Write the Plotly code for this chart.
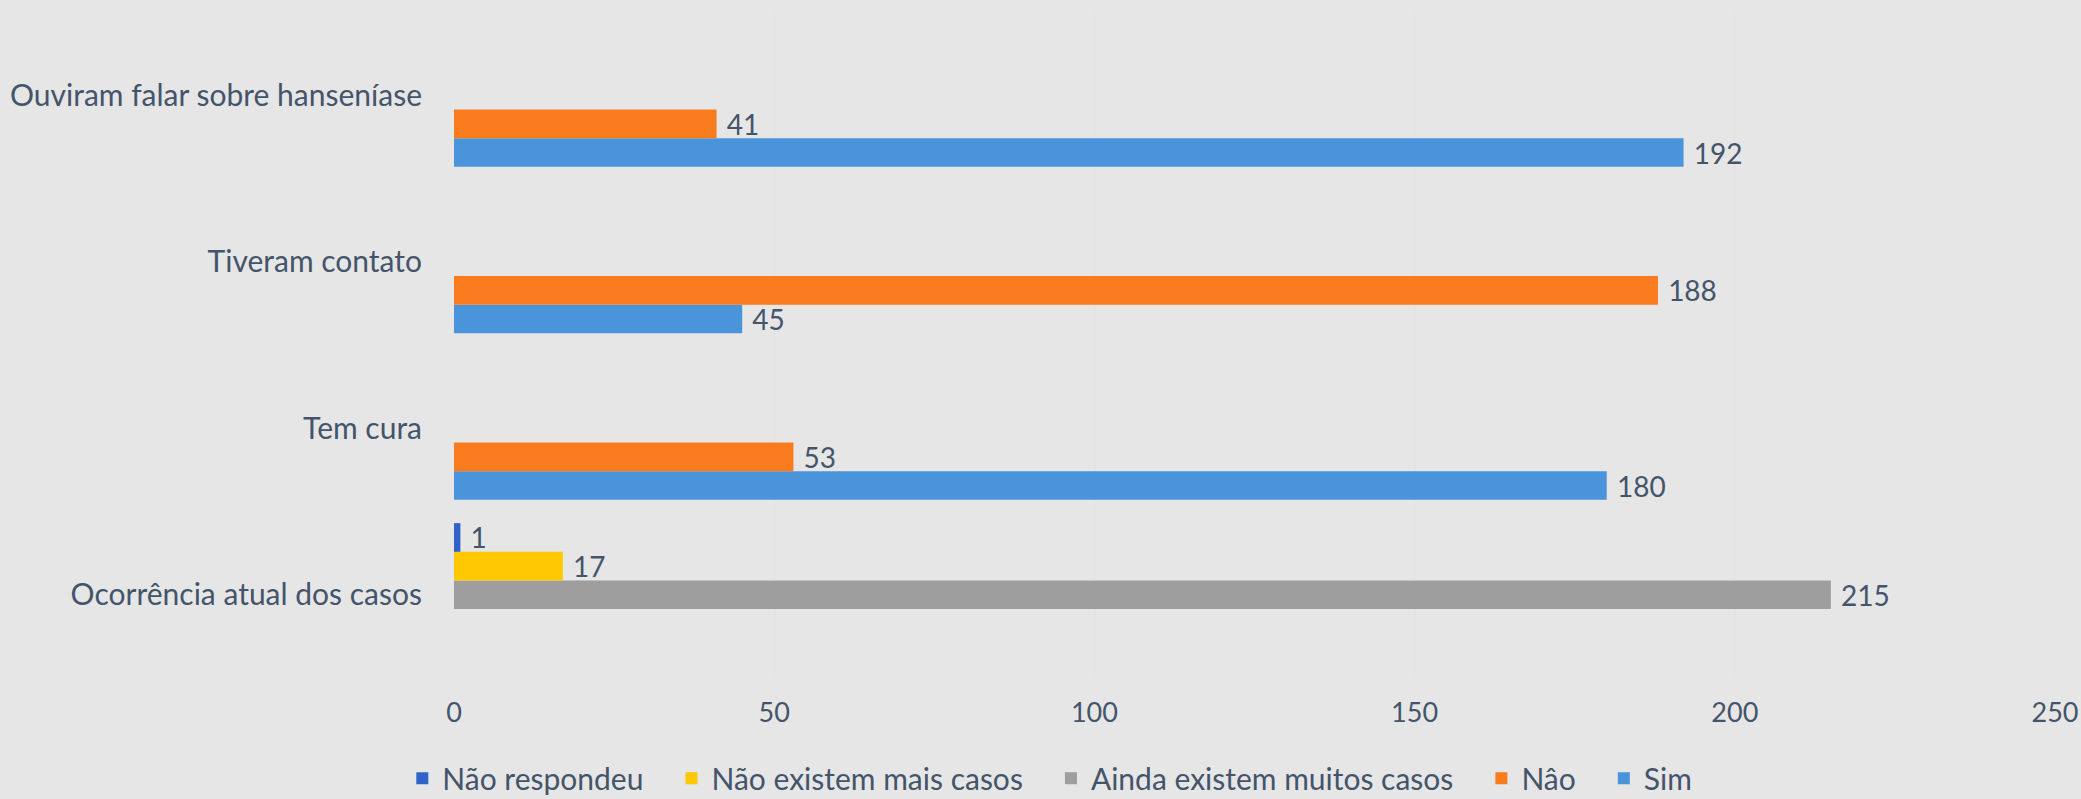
import plotly.graph_objects as go

categories = ["Ocorrência atual dos casos", "Tem cura", "Tiveram contato", "Ouviram falar sobre hanseníase"]
sim = [None, 180, 45, 192]
nao = [None, 53, 188, 41]
ainda = [215, None, None, None]
nao_existem = [17, None, None, None]
nao_respondeu = [1, None, None, None]

series = [
    ("Sim", sim, "#4a94db"),
    ("Nâo", nao, "#fa7a1e"),
    ("Ainda existem muitos casos", ainda, "#9e9e9e"),
    ("Não existem mais casos", nao_existem, "#ffc800"),
    ("Não respondeu", nao_respondeu, "#2f63c9"),
]

TXT = "#44546a"
FONT = "Lato"
PAD = "\u00a0" * 3

fig = go.Figure()
for name, vals, col in series:
    fig.add_trace(go.Bar(
        y=categories, x=vals, name=name + PAD, orientation="h",
        marker=dict(color=col, line=dict(width=0)),
        text=[" " + str(v) if v is not None else "" for v in vals],
        textposition="outside",
        constraintext="none",
        textfont=dict(family=FONT, size=28, color=TXT),
        cliponaxis=False,
    ))

fig.update_layout(
    width=2081, height=799,
    barmode="group", bargap=0.14, bargroupgap=0,
    paper_bgcolor="#e6e6e6", plot_bgcolor="#e6e6e6",
    margin=dict(l=454, r=26, t=12, b=121),
    font=dict(family=FONT, size=30, color=TXT),
    showlegend=True,
    legend=dict(
        orientation="h", traceorder="reversed",
        xref="container", yref="container",
        x=0.51, xanchor="center", y=0.026, yanchor="middle",
        font=dict(family=FONT, size=30, color=TXT),
        bgcolor="rgba(0,0,0,0)",
    ),
    xaxis=dict(
        range=[0, 250], dtick=50, showgrid=True, gridcolor="#dfe3e8", gridwidth=1,
        zeroline=False, showline=False, automargin=False,
        ticks="outside", ticklen=11, tickcolor="rgba(0,0,0,0)",
        tickfont=dict(family=FONT, size=27, color=TXT),
    ),
    yaxis=dict(
        showgrid=False, zeroline=False, showline=False,
        ticks="outside", ticklen=25, tickcolor="rgba(0,0,0,0)",
        tickfont=dict(family=FONT, size=30, color=TXT),
        automargin=False,
    ),
)

fig.write_html("out.html", config={"displayModeBar": False},
               post_script="document.body.style.margin='0';document.body.style.background='#e6e6e6';")
